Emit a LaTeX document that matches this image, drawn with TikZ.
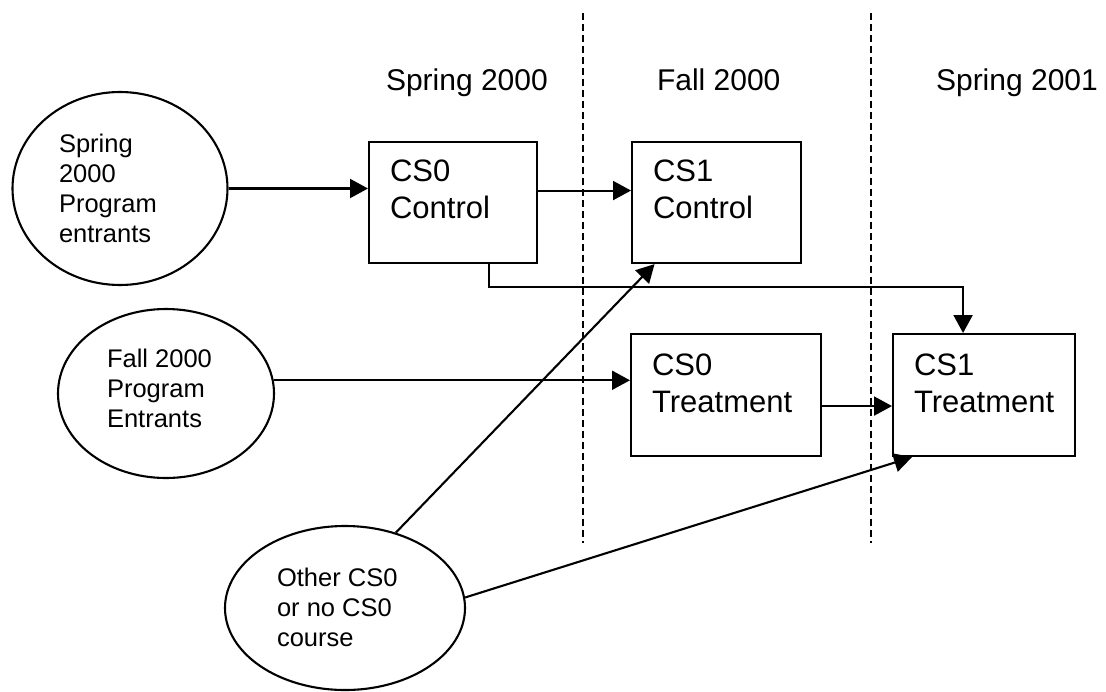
\documentclass[tikz,border=0pt]{standalone}
\usepackage{fontspec}
\setmainfont{Liberation Sans}
\usetikzlibrary{arrows.meta,shapes.geometric}
\begin{document}
\begin{tikzpicture}[x=1pt,y=-1pt,
  line width=2.1pt,
  oval/.style={draw, ellipse, inner sep=0pt},
  course/.style={draw, rectangle, inner sep=0pt, anchor=north west},
  boxlabel/.style={anchor=north west, inner sep=0pt, align=left,
    font=\fontsize{31}{37}\selectfont},
  ovallabel/.style={anchor=north west, inner sep=0pt, align=left,
    font=\fontsize{25.5}{30}\selectfont},
  term/.style={anchor=base west, inner sep=0pt, font=\fontsize{30}{36}\selectfont},
  divider/.style={line width=1.9pt, dash pattern=on 7pt off 4pt},
  arr/.style={-{Triangle[length=18pt,width=19pt]}}
]
\useasboundingbox (0,0) rectangle (1106,691);

% term headings
\node[term] (h1) at (385,90) {Spring 2000};
\node[term] (h2) at (656,90) {Fall 2000};
\node[term] (h3) at (935,90) {Spring 2001};

% term dividers
\draw[divider] (583,13) -- (583,543);
\draw[divider] (871,13) -- (871,543);

% student groups
\node[oval, minimum width=215pt, minimum height=193pt] (e1) at (120,188.5) {};
\node[oval, minimum width=216pt, minimum height=169pt] (e2) at (166,393.5) {};
\node[oval, minimum width=240pt, minimum height=164pt] (e3) at (345,608) {};
\node[ovallabel] (e1t) at ([xshift=-62pt,yshift=55.5pt]e1.center) {Spring\\2000\\Program\\entrants};
\node[ovallabel] (e2t) at ([xshift=-60pt,yshift=45.5pt]e2.center) {Fall 2000\\Program\\Entrants};
\node[ovallabel] (e3t) at ([xshift=-69pt,yshift=41pt]e3.center) {Other CS0\\or no CS0\\course};

% course sections
\node[course, minimum width=168pt, minimum height=121pt] (a) at (368,141) {};
\node[course, minimum width=169pt, minimum height=121pt] (b) at (631,141) {};
\node[course, minimum width=190pt, minimum height=122pt] (c) at (630,333) {};
\node[course, minimum width=182pt, minimum height=122pt] (d) at (892,333) {};
\node[boxlabel] (at) at ([xshift=21pt,yshift=-18pt]a.north west) {CS0\\Control};
\node[boxlabel] (bt) at ([xshift=21pt,yshift=-18pt]b.north west) {CS1\\Control};
\node[boxlabel] (ct) at ([xshift=21pt,yshift=-20pt]c.north west) {CS0\\Treatment};
\node[boxlabel] (dt) at ([xshift=21pt,yshift=-20pt]d.north west) {CS1\\Treatment};

% flows
\draw[arr] (e1.east) -- (e1.east -| a.west);
\draw[arr] ([yshift=12pt]a.east) -- ([yshift=12pt]b.west);
\draw[arr] ([xshift=36pt]a.south) -- ++(0,23) -| ([xshift=-21pt]d.north);
\draw[arr] (e2.7) -- (e2.7 -| c.west);
\draw[arr] ([yshift=-11pt]c.east) -- ([yshift=-11pt]c.east -| d.west);
\draw[arr] (e3.56) -- ([xshift=-62pt]b.south);
\draw[arr] (e3.5) -- ([xshift=20pt]d.south west);
\end{tikzpicture}
\end{document}
